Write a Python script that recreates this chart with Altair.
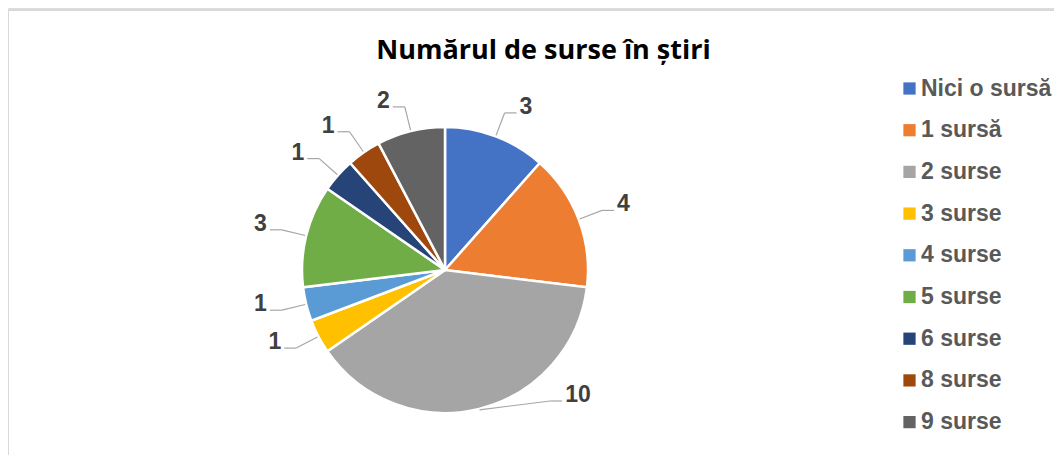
import altair as alt
import pandas as pd

# ---- data ----
categories = ["Nici o sursă", "1 sursă", "2 surse", "3 surse", "4 surse",
              "5 surse", "6 surse", "8 surse", "9 surse"]
values = [3, 4, 10, 1, 1, 3, 1, 1, 2]
colors = ["#4472C4", "#ED7D31", "#A5A5A5", "#FFC000", "#5B9BD5",
          "#70AD47", "#264478", "#9E480E", "#636363"]
title_text = "Numărul de surse în știri"

df = pd.DataFrame({"cat": categories, "value": values, "idx": list(range(len(values)))})

# ---- layout (pixel geometry, chart coords) ----
W, H = 1046, 447
CX, CY, R = 437, 262, 143
RE = 168          # elbow radius of leader lines
HLEN = 12         # horizontal part of leader line
YLIM = CY + 131   # lowest allowed elbow

base = alt.Chart(df).transform_window(
    cum="sum(value)", sort=[alt.SortField("idx")], frame=[None, 0]
).transform_joinaggregate(
    total="sum(value)"
).transform_calculate(
    a="(datum.cum - datum.value/2)/datum.total*2*PI"
).transform_calculate(
    s="sin(datum.a) >= 0 ? 1 : -1",
    ex=f"{CX} + {R+1}*sin(datum.a)",
    ey=f"{CY} - {R+1}*cos(datum.a)",
    ae=f"({CY} - {RE}*cos(datum.a) > {YLIM}) ? (sin(datum.a) >= 0 ? acos(({CY}-{YLIM})/{RE}) : 2*PI - acos(({CY}-{YLIM})/{RE})) : datum.a",
).transform_calculate(
    kx=f"{CX} + {RE}*sin(datum.ae)",
    ky=f"{CY} - {RE}*cos(datum.ae)",
).transform_calculate(
    hx=f"datum.kx + datum.s*{HLEN}",
    tx=f"datum.kx + datum.s*{HLEN + 3}",
    ty="datum.ky + 1",
)

pie = alt.Chart(df).mark_arc(outerRadius=R, stroke="white", strokeWidth=2.5).encode(
    theta=alt.Theta("value:Q", stack=True),
    order=alt.Order("idx:Q"),
    color=alt.Color(
        "cat:N",
        scale=alt.Scale(domain=categories, range=colors),
        legend=alt.Legend(
            title=None, orient="none", legendX=890, legendY=69,
            direction="vertical", symbolType="square", symbolSize=150,
            symbolStrokeWidth=0, labelFont="Liberation Sans", labelFontSize=23,
            labelFontWeight="bold", labelColor="#595959", labelOffset=0,
            rowPadding=17.7, labelLimit=300,
        ),
    ),
    x=alt.value(CX),
    y=alt.value(CY),
)

line_style = dict(color="#A6A6A6", strokeWidth=1.2)
seg1 = base.mark_rule(**line_style).encode(
    x=alt.X("ex:Q", scale=None, axis=None),
    y=alt.Y("ey:Q", scale=None, axis=None),
    x2="kx:Q", y2="ky:Q",
)
seg2 = base.mark_rule(**line_style).encode(
    x=alt.X("kx:Q", scale=None, axis=None),
    y=alt.Y("ky:Q", scale=None, axis=None),
    x2="hx:Q", y2="ky:Q",
)

txt_style = dict(font="Liberation Sans", fontSize=23, fontWeight="bold",
                 color="#404040", baseline="alphabetic")
lab_r = base.transform_filter("datum.s > 0").mark_text(align="left", **txt_style).encode(
    x=alt.X("tx:Q", scale=None, axis=None),
    y=alt.Y("ty:Q", scale=None, axis=None),
    text="value:Q",
)
lab_l = base.transform_filter("datum.s < 0").mark_text(align="right", **txt_style).encode(
    x=alt.X("tx:Q", scale=None, axis=None),
    y=alt.Y("ty:Q", scale=None, axis=None),
    text="value:Q",
)

title = alt.Chart(pd.DataFrame({"t": [title_text]})).mark_text(
    font="Open Sans", fontSize=27, fontWeight="bold", color="#000000",
    align="center", baseline="alphabetic",
).encode(text="t:N", x=alt.value(535.5), y=alt.value(51.3))

frame_df = pd.DataFrame({"k": [0]})
frame_left = alt.Chart(frame_df).mark_rule(color="#D9D9D9", strokeWidth=2).encode(
    x=alt.value(0), y=alt.value(1), y2=alt.value(H + 20))
frame_top = alt.Chart(frame_df).mark_rule(color="#D9D9D9", strokeWidth=2).encode(
    x=alt.value(0), x2=alt.value(W + 20), y=alt.value(2))

chart = alt.layer(frame_left, frame_top, pie, seg1, seg2, lab_r, lab_l, title).properties(
    width=W, height=H, padding=0, autosize=alt.AutoSizeParams(type="none"),
).configure_view(stroke=None).configure(background="white")

chart.save("out.html", embed_options={"renderer": "svg", "actions": False})
